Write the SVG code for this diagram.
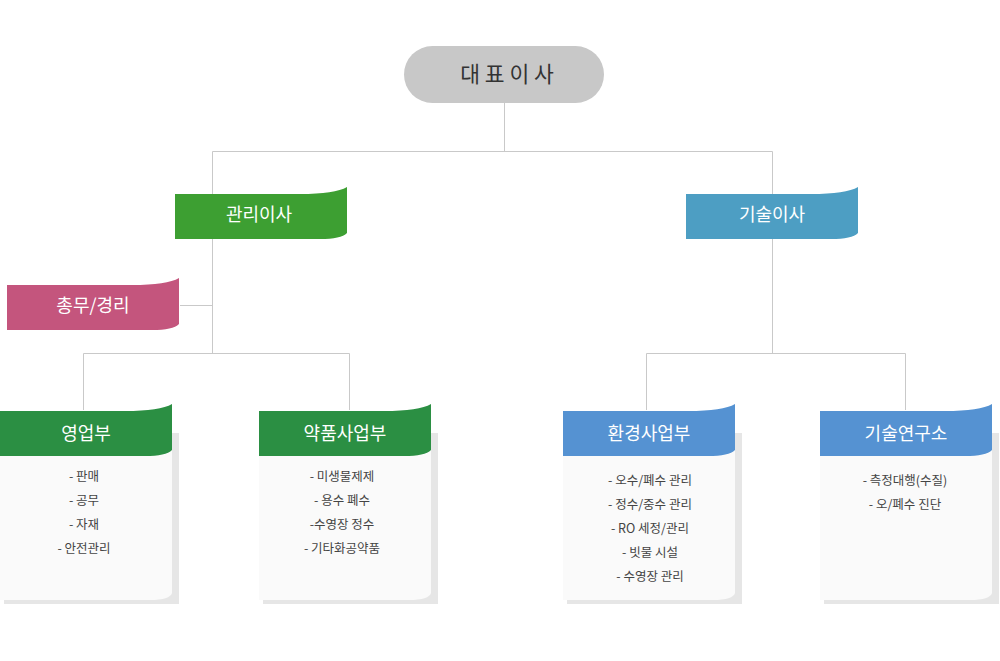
<svg xmlns="http://www.w3.org/2000/svg" xmlns:xlink="http://www.w3.org/1999/xlink" width="1000" height="661" viewBox="0 0 1000 661">
<style>
.ln{stroke:#c9c9c9;stroke-width:1;fill:none}
.bt{font-family:"Noto Sans CJK KR","Noto Sans",sans-serif;font-size:18px;fill:#ffffff;text-anchor:middle}
.tx{font-family:"Noto Sans CJK KR","Noto Sans",sans-serif;font-size:12.5px;fill:#444444;text-anchor:middle}
.top{font-family:"Noto Sans CJK KR","Noto Sans",sans-serif;font-size:21.5px;fill:#333333;text-anchor:middle}
.sh{fill:#e6e6e6}
.bd{fill:#fafafa}
</style>
<defs>
<path id="ban" d="M0,7 H125 Q160,7 172,0 V46 Q166,52 145,52 H0 Z"/>
<path id="body" d="M0,29 H172 V189 Q170,196 150,196 H0 Z"/>
</defs>
<rect width="1000" height="661" fill="#ffffff"/>
<g id="connectors">
<path class="ln" d="M504.5,103 V151.5 M212.5,151.5 H772.5 M212.5,151.5 V194 M772.5,151.5 V194"/>
<path class="ln" d="M212.5,239 V353.5 M180,305.5 H212.5 M83.5,353.5 H349.5 M83.5,353.5 V410 M349.5,353.5 V410"/>
<path class="ln" d="M772.5,239 V353.5 M646.5,353.5 H905.5 M646.5,353.5 V410 M905.5,353.5 V410"/>
</g>
<g id="ceo">
<rect x="404" y="46" width="200" height="57" rx="28.5" fill="#c8c8c8"/>
<text class="top" x="507" y="82">대 표 이 사</text>
</g>
<g id="admin-director">
<use xlink:href="#ban" transform="translate(175,187)" fill="#3d9f32"/>
<text class="bt" x="259" y="221">관리이사</text>
</g>
<g id="tech-director">
<use xlink:href="#ban" transform="translate(686,187)" fill="#4d9ec3"/>
<text class="bt" x="772" y="221">기술이사</text>
</g>
<g id="general-affairs">
<use xlink:href="#ban" transform="translate(7,278)" fill="#c4557d"/>
<text class="bt" x="93" y="312">총무/경리</text>
</g>
<g id="sales">
<rect class="sh" x="4" y="433" width="175" height="171"/>
<use xlink:href="#body" transform="translate(0,404)" class="bd"/>
<use xlink:href="#ban" transform="translate(0,404)" fill="#2b8f43"/>
<text class="bt" x="86" y="440">영업부</text>
<text class="tx" x="84" y="481">- 판매</text>
<text class="tx" x="84" y="505">- 공무</text>
<text class="tx" x="84" y="529">- 자재</text>
<text class="tx" x="84" y="553">- 안전관리</text>
</g>
<g id="chemicals">
<rect class="sh" x="263" y="433" width="175" height="171"/>
<use xlink:href="#body" transform="translate(259,404)" class="bd"/>
<use xlink:href="#ban" transform="translate(259,404)" fill="#2b8f43"/>
<text class="bt" x="345" y="440">약품사업부</text>
<text class="tx" x="342" y="481">- 미생물제제</text>
<text class="tx" x="342" y="505">- 용수 폐수</text>
<text class="tx" x="342" y="529">-수영장 정수</text>
<text class="tx" x="342" y="553">- 기타화공약품</text>
</g>
<g id="environment">
<rect class="sh" x="567" y="433" width="175" height="171"/>
<use xlink:href="#body" transform="translate(563,404)" class="bd"/>
<use xlink:href="#ban" transform="translate(563,404)" fill="#5592d2"/>
<text class="bt" x="649" y="440">환경사업부</text>
<text class="tx" x="650" y="485">- 오수/폐수 관리</text>
<text class="tx" x="650" y="509">- 정수/중수 관리</text>
<text class="tx" x="650" y="533">- RO 세정/관리</text>
<text class="tx" x="650" y="557">- 빗물 시설</text>
<text class="tx" x="650" y="581">- 수영장 관리</text>
</g>
<g id="research">
<rect class="sh" x="824" y="433" width="175" height="171"/>
<use xlink:href="#body" transform="translate(820,404)" class="bd"/>
<use xlink:href="#ban" transform="translate(820,404)" fill="#5592d2"/>
<text class="bt" x="906" y="440">기술연구소</text>
<text class="tx" x="905" y="485">- 측정대행(수질)</text>
<text class="tx" x="905" y="509">- 오/폐수 진단</text>
</g>
</svg>
